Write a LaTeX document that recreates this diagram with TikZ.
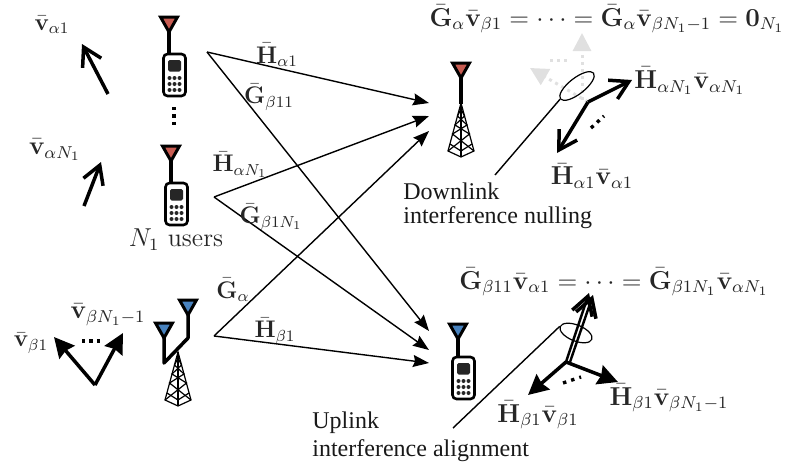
\documentclass[tikz,border=0pt]{standalone}
\usepackage{amsmath,amssymb}
\usepackage[no-math]{fontspec}
\usepackage{xcolor}
\usepackage{tikz}
\usetikzlibrary{positioning,%
  arrows.meta,%
  shapes.geometric,%
  calc%
}
\newfontfamily\timesfont{Liberation Serif}
\newcommand{\barH}{\bar{\mathbf{H}}}
\newcommand{\barG}{\bar{\mathbf{G}}}
\newcommand{\barv}{\bar{\mathbf{v}}}
\definecolor{tipred}{RGB}{200,92,82}
\definecolor{tipblue}{RGB}{72,130,190}

\tikzset{
  lbl/.style={font=\fontsize{12}{14}\selectfont, text=black!85, inner sep=0pt},
  biglbl/.style={lbl, scale=1.08, transform shape},
  txt/.style={font=\fontsize{12}{14}\selectfont\timesfont, text=black!90, inner sep=0pt, anchor=west},
  link/.style={line width=.7pt, -{Stealth[length=8pt,width=6pt,inset=1pt]}},
  barb/.style={line width=1.75pt, -{Straight Barb[length=9pt,width=10.5pt,line width=1.75pt]}},
  solid head/.style={line width=1.75pt, -{Stealth[length=10pt,width=10pt,inset=1pt]}},
  ghost/.style={line width=1.5pt, black!12, dash pattern=on 1.5pt off 2pt, -{Stealth[length=9pt,width=9pt,inset=0pt,sep=0pt]}},
  ring/.style={ellipse, draw, line width=.6pt, inner sep=0pt},
  dotty/.style={line width=1.7pt, dash pattern=on 1.7pt off 2pt},
  pics/antenna/.style={code={
    \draw [line width=1.5pt, fill=#1, line join=miter] (-8.5,-15) -- (8.5,-15) -- (0,0) -- cycle;
  }},
  pics/phone/.style={code={
    \draw [line width=1.3pt, fill=white, rounded corners=2pt] (-11,0) rectangle (11,42);
    \fill [black!85, rounded corners=.8pt] (-6.5,6) rectangle (6.5,17.5);
    \foreach \px in {-5,0,5}
      \foreach \py in {24,30,36}
        \fill [black!85] (\px,\py) circle (1pt);
  }},
  pics/tower/.style={code={
    \draw [line width=.6pt] (-13,48) -- (0,0) -- (13,48) -- (0,54) -- cycle;
    \draw [line width=.6pt] (0,0) -- (0,54);
    \draw [line width=.6pt] (-13,48) -- (8.5,31) -- (-6,22) -- (3.5,13) -- (-1,4);
    \draw [line width=.6pt] (13,48) -- (-8.5,31) -- (6,22) -- (-3.5,13) -- (1,4);
    \draw [line width=.6pt] (-11,41) -- (0,48) -- (11,41);
  }}
}

\begin{document}
\begin{tikzpicture}[x=.5pt,y=-.5pt]
  \useasboundingbox (0,0) rectangle (787,466);

  % users on the left
  \draw [line width=1.75pt] (169,30) -- (169,53);
  \pic at (169,32) {antenna=tipred};
  \pic at (174.5,54) {phone};
  \draw [line width=1.75pt] (171,160) -- (171,182);
  \pic at (171,161) {antenna=tipred};
  \pic at (176.5,183) {phone};
  \draw [dotty] (174,107) -- (174,127);
  \node [biglbl] (nusers) at (176,240) {$N_1$ users};

  % base station on the left
  \draw [line width=1.75pt, line join=round] (164,336) -- (164,363) -- (188,338) -- (188,313);
  \pic at (164,338) {antenna=tipblue};
  \pic at (188,315) {antenna=tipblue};
  \pic at (178,352) {tower};

  % base station on the right
  \draw [line width=1.75pt] (461,76) -- (461,104);
  \pic at (461,78) {antenna=tipred};
  \pic at (461,103) {tower};

  % user on the right
  \draw [line width=1.75pt] (458,337) -- (458,357);
  \pic at (458,339) {antenna=tipblue};
  \pic at (463.5,357) {phone};

  % link ends
  \coordinate (ua) at (207,52);
  \coordinate (ub) at (214,197);
  \coordinate (uc) at (214,336);
  \coordinate (ra) at (429,103);
  \coordinate (rb) at (429,116);
  \coordinate (rc) at (429,131);
  \coordinate (sa) at (429,331);
  \coordinate (sb) at (429,350);
  \coordinate (sc) at (429,363);

  \draw [link] (ua) -- (ra);
  \draw [link] (ua) -- (sa);
  \draw [link] (ub) -- (rb);
  \draw [link] (ub) -- (sb);
  \draw [link] (uc) -- (rc);
  \draw [link] (uc) -- (sc);

  \node [lbl] (hone) at (277,55) {$\barH_{\alpha 1}$};
  \node [lbl] (gone) at (269,97) {$\barG_{\beta 11}$};
  \node [lbl] (hn) at (240,165) {$\barH_{\alpha N_1}$};
  \node [lbl] (gn) at (271,217) {$\barG_{\beta 1 N_1}$};
  \node [lbl] (ga) at (233,290) {$\barG_{\alpha}$};
  \node [lbl] (hb) at (275,331) {$\barH_{\beta 1}$};

  % beams on the left
  \coordinate (va) at (108,94);
  \coordinate (vat) at (82,44);
  \coordinate (vb) at (84,206);
  \coordinate (vbt) at (101,162);
  \draw [barb] (va) -- (vat);
  \draw [barb] (vb) -- (vbt);
  \node [lbl] (vlone) at (52,25) {$\barv_{\alpha 1}$};
  \node [biglbl] (vln) at (55,150) {$\barv_{\alpha N_1}$};

  \coordinate (vo) at (95,385);
  \coordinate (voa) at (54,337);
  \coordinate (vob) at (123,333);
  \draw [solid head] (vo) -- (voa);
  \draw [solid head] (vo) -- (vob);
  \draw [dotty] (82,341) -- (101,341);
  \node [lbl] (vlb) at (31,343) {$\barv_{\beta 1}$};
  \node [biglbl] (vlc) at (108,315) {$\barv_{\beta N_1 - 1}$};

  % downlink nulling
  \node [biglbl] (nulleq) at (607,19) {$\barG_{\alpha}\barv_{\beta 1} = \cdots = \barG_{\alpha}\barv_{\beta N_1 - 1} = \mathbf{0}_{N_1}$};
  \coordinate (no) at (588,102);
  \coordinate (nga) at (582,33);
  \coordinate (ngb) at (530,68);
  \coordinate (ngc) at (582,100);
  \draw [ghost] (ngc) -- (nga);
  \draw [ghost] (no) -- (ngb);
  \draw [line width=1.5pt, black!12, dash pattern=on 1.5pt off 2pt] (550,60) -- (570,60);
  \coordinate (nta) at (632,80);
  \coordinate (ntb) at (557,153);
  \draw [barb] (no) -- (nta);
  \draw [barb] (no) -- (ntb);
  \draw [line width=1.7pt, dash pattern=on 1.7pt off 2.4pt] (591,128) -- (604,116);
  \node [ring, minimum width=21pt, minimum height=8pt, rotate=38] (nullring) at (577,86) {};
  \coordinate (nullend) at (495,175);
  \draw [line width=.7pt] (nullring.west) -- (nullend);
  \node [biglbl] (hvn) at (690,81) {$\barH_{\alpha N_1}\barv_{\alpha N_1}$};
  \node [biglbl] (hvo) at (592,176) {$\barH_{\alpha 1}\barv_{\alpha 1}$};
  \node [txt] (dltext) at (403,191) {Downlink};
  \node [txt] (dltextb) at (403,218) {interference nulling};

  % uplink alignment
  \node [biglbl] (aligneq) at (614,282) {$\barG_{\beta 11}\barv_{\alpha 1} = \cdots = \barG_{\beta 1 N_1}\barv_{\alpha N_1}$};
  \coordinate (ao) at (566,362);
  \coordinate (aob) at (570,362);
  \coordinate (ata) at (589,293);
  \coordinate (atb) at (593,295);
  \coordinate (atc) at (528,395);
  \coordinate (atd) at (618,382);
  \draw [barb, line width=1.2pt] (ao) -- (ata);
  \draw [barb, line width=1.2pt] (aob) -- (atb);
  \draw [solid head] (ao) -- (atc);
  \draw [solid head] (ao) -- (atd);
  \draw [line width=1.7pt, dash pattern=on 1.7pt off 2.6pt] (563,383) -- (581,377);
  \node [ring, minimum width=17pt, minimum height=8pt, rotate=-22] (alignring) at (576,333) {};
  \coordinate (alignend) at (453,428);
  \draw [line width=.7pt] (alignring.west) -- (alignend);
  \node [biglbl] (hva) at (538,415) {$\barH_{\beta 1}\barv_{\beta 1}$};
  \node [biglbl] (hvb) at (669,398) {$\barH_{\beta 1}\barv_{\beta N_1 - 1}$};
  \node [txt] (ultext) at (312,423) {Uplink};
  \node [txt] (ultextb) at (312,451) {interference alignment};
\end{tikzpicture}
\end{document}
